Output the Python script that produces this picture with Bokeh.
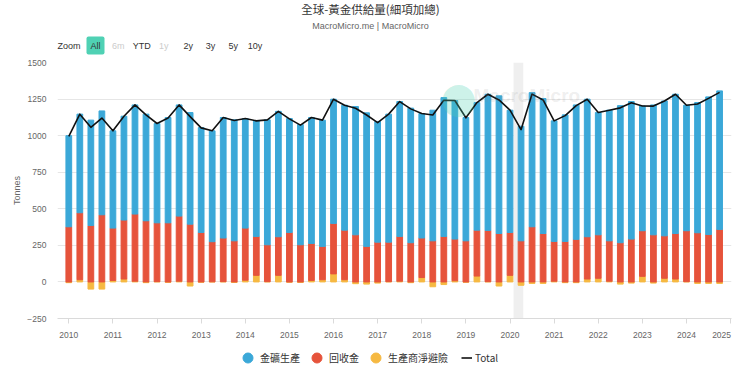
import numpy as np
from bokeh.plotting import figure
from bokeh.layouts import column
from bokeh.models import (FixedTicker, Label, Legend, LegendItem, BoxAnnotation, Range1d)
from bokeh.embed import file_html
from bokeh.resources import INLINE

# ---------------- data (tonnes, quarterly) ----------------
quarters = [f"{y}Q{q}" for y in range(2010, 2025) for q in range(1, 5)]

mine = [623, 674, 720, 710, 665, 710, 746, 729, 679, 720, 760, 763,
        717, 758, 824, 827, 749, 790, 854, 857, 779, 822, 861, 863,
        849, 854, 877, 913, 825, 875, 922, 920, 851, 893, 949, 947,
        843, 872, 931, 941, 836, 783, 917, 923, 824, 865, 919, 940,
        836, 893, 937, 940, 853, 888, 922, 952, 858, 890, 941, 947]

recycling = [377, 458, 386, 459, 358, 403, 459, 418, 402, 404, 445, 395,
             338, 274, 298, 281, 356, 266, 252, 264, 338, 254, 253, 228,
             345, 339, 322, 243, 272, 270, 306, 268, 270, 281, 311, 285,
             281, 314, 350, 331, 293, 281, 377, 331, 272, 277, 291, 289,
             297, 276, 268, 293, 312, 322, 290, 311, 348, 336, 324, 359]

hedging = [-5, 15, -49, -49, 10, 20, 5, -5, 2, -3, 5, -28,
           -2, 1, 2, -4, 12, 45, 2, 45, -2, -4, 10, 15,
           55, 15, -12, -15, -8, 2, 5, -5, 30, -33, -18, 8,
           -2, 40, 2, -28, 45, -23, -10, -10, 5, -5, -5, 20,
           25, 5, -15, -8, 38, -8, 25, 20, 2, -10, -10, -10]

total = [995, 1147, 1057, 1120, 1033, 1133, 1210, 1142, 1083, 1121, 1210, 1130,
         1053, 1033, 1124, 1104, 1117, 1101, 1108, 1166, 1115, 1072, 1124, 1106,
         1249, 1208, 1187, 1141, 1089, 1147, 1233, 1183, 1151, 1141, 1242, 1240,
         1122, 1226, 1283, 1244, 1174, 1041, 1284, 1244, 1101, 1137, 1205, 1249,
         1158, 1174, 1190, 1225, 1203, 1202, 1237, 1283, 1208, 1216, 1255, 1296]

x_ticks = list(range(2010, 2026))
y_ticks = [-250, 0, 250, 500, 750, 1000, 1250, 1500]
recession_start, recession_end = 2020.08, 2020.30

title_text = "全球-黃金供給量(細項加總)"
subtitle_text = "MacroMicro.me | MacroMicro"
series_names = ["金礦生產", "回收金", "生產商淨避險", "Total"]
range_buttons = ["6m", "YTD", "1y", "2y", "3y", "5y", "10y"]
disabled_buttons = ["6m", "1y"]

BLUE, RED, YELLOW = "#3ba8d8", "#e6533b", "#f6b942"
CJK = "Noto Sans CJK TC"
LAT = "Liberation Sans"
W = 740


def blank_fig(h):
    f = figure(width=W, height=h, x_range=Range1d(0, W), y_range=Range1d(h, 0),
               x_axis_location=None, y_axis_location=None,
               output_backend="svg", toolbar_location=None, min_border=0)
    f.outline_line_color = None
    f.xgrid.visible = False
    f.ygrid.visible = False
    f.frame_align = False
    return f


# ---------------- header (y measured from the page top) ----------------
hdr = blank_fig(56)
hdr.add_layout(Label(x=370, y=8, text=title_text, text_align="center", text_baseline="middle",
                     text_font=CJK, text_font_size="11.5px", text_color="#333333"))
hdr.add_layout(Label(x=370, y=25, text=subtitle_text, text_align="center", text_baseline="middle",
                     text_font=LAT, text_font_size="9px", text_color="#666666"))
sel_y = 45
hdr.add_layout(Label(x=57, y=sel_y, text="Zoom", text_align="left", text_baseline="middle",
                     text_font=LAT, text_font_size="9px", text_color="#333333"))
hdr.add_layout(Label(x=95, y=sel_y, text="All", text_align="center", text_baseline="middle",
                     text_font=LAT, text_font_size="9px", text_color="#333333",
                     background_fill_color="#4fd1b4", padding=4, border_radius=2))
btn_x = [117.8, 141.3, 163.3, 187.7, 210, 232.7, 254.5]
for bx, bt in zip(btn_x, range_buttons):
    hdr.add_layout(Label(x=bx, y=sel_y, text=bt, text_align="center", text_baseline="middle",
                         text_font=LAT, text_font_size="9px",
                         text_color="#cccccc" if bt in disabled_buttons else "#333333"))

# ---------------- main chart ----------------
x = np.array([int(q[:4]) + (int(q[-1]) - 1) * 0.25 for q in quarters])
m = np.array(mine, dtype=float)
r = np.array(recycling, dtype=float)
h = np.array(hedging, dtype=float)
pos = np.clip(h, 0, None)

p = figure(frame_width=674, frame_height=256,
           x_range=Range1d(2009.744, 2025.02), y_range=Range1d(-250, 1500),
           output_backend="svg", toolbar_location=None,
           min_border_left=57, min_border_right=9, min_border_top=6, min_border_bottom=24)
p.outline_line_color = None
p.frame_align = False

p.add_layout(BoxAnnotation(left=recession_start, right=recession_end,
                           fill_color="#efefef", fill_alpha=1, line_color=None,
                           level="underlay"))

bw = 0.13
p.vbar(x=x, width=bw, bottom=0, top=h, color=YELLOW)
p.vbar(x=x, width=bw, bottom=pos, top=pos + r, color=RED)
p.vbar(x=x, width=bw, bottom=pos + r, top=pos + r + m, color=BLUE)
p.line(x, total, line_color="#111111", line_width=1.6, line_join="round")

p.xgrid.visible = False
p.ygrid.grid_line_color = "#e6e6e6"
p.ygrid.ticker = FixedTicker(ticks=y_ticks)

ya = p.yaxis[0]
ya.ticker = FixedTicker(ticks=y_ticks)
ya.axis_line_color = None
ya.major_tick_line_color = None
ya.major_tick_out = 0
ya.major_tick_in = 0
ya.minor_tick_line_color = None
ya.major_label_standoff = 11
ya.major_label_text_font = LAT
ya.major_label_text_font_size = "8.5px"
ya.major_label_text_color = "#666666"
ya.axis_label = "Tonnes"
ya.axis_label_text_font = LAT
ya.axis_label_text_font_size = "9px"
ya.axis_label_text_font_style = "normal"
ya.axis_label_text_color = "#666666"
ya.axis_label_standoff = 2

xa = p.xaxis[0]
xa.ticker = FixedTicker(ticks=x_ticks)
xa.axis_line_color = "#dadada"
xa.major_tick_line_color = "#dadada"
xa.major_tick_out = 5
xa.major_tick_in = 0
xa.minor_tick_line_color = None
xa.major_label_standoff = 6
xa.major_label_text_font = LAT
xa.major_label_text_font_size = "8.5px"
xa.major_label_text_color = "#666666"
# last year label nudged left, as in the reference
xa.major_label_overrides = {x_ticks[-1]: str(x_ticks[-1]) + "\u00a0" * 4}

# watermark
p.add_layout(Label(x=401, y=221, x_units="screen", y_units="screen", text="●",
                   text_align="center", text_baseline="middle", text_font="DejaVu Sans",
                   text_font_size="42px", text_color="#4fd1b4", text_alpha=0.3))
p.add_layout(Label(x=416, y=223, x_units="screen", y_units="screen", text="MacroMicro",
                   text_align="left", text_baseline="middle", text_font=LAT,
                   text_font_size="19px", text_font_style="bold",
                   text_color="#888888", text_alpha=0.15))

# ---------------- footer legend ----------------
ftr = blank_fig(28)
nan1 = np.array([np.nan])
rb = ftr.scatter(x=nan1, y=nan1, marker="circle", size=10, color=BLUE)
rr = ftr.scatter(x=nan1, y=nan1, marker="circle", size=10, color=RED)
ry = ftr.scatter(x=nan1, y=nan1, marker="circle", size=10, color=YELLOW)
rt = ftr.line(x=np.array([np.nan, np.nan]), y=np.array([np.nan, np.nan]),
              line_color="#111111", line_width=1.6)

leg_common = dict(orientation="horizontal", padding=0, margin=0, border_line_color=None,
                  background_fill_alpha=0, label_text_font=CJK, label_text_font_size="10px",
                  label_text_color="#333333", glyph_height=25, label_height=10)
leg1 = Legend(items=[LegendItem(label=series_names[0], renderers=[rb]),
                     LegendItem(label=series_names[1], renderers=[rr]),
                     LegendItem(label=series_names[2], renderers=[ry])],
              location=(235, 0.5), glyph_width=25, label_standoff=0, spacing=4, **leg_common)
leg2 = Legend(items=[LegendItem(label=series_names[3], renderers=[rt])],
              location=(461, 0.5), glyph_width=11, label_standoff=3, spacing=0, **leg_common)
ftr.add_layout(leg1, "center")
ftr.add_layout(leg2, "center")

layout = column(hdr, p, ftr, spacing=0)
open("out.html", "w").write(file_html(layout, INLINE))
